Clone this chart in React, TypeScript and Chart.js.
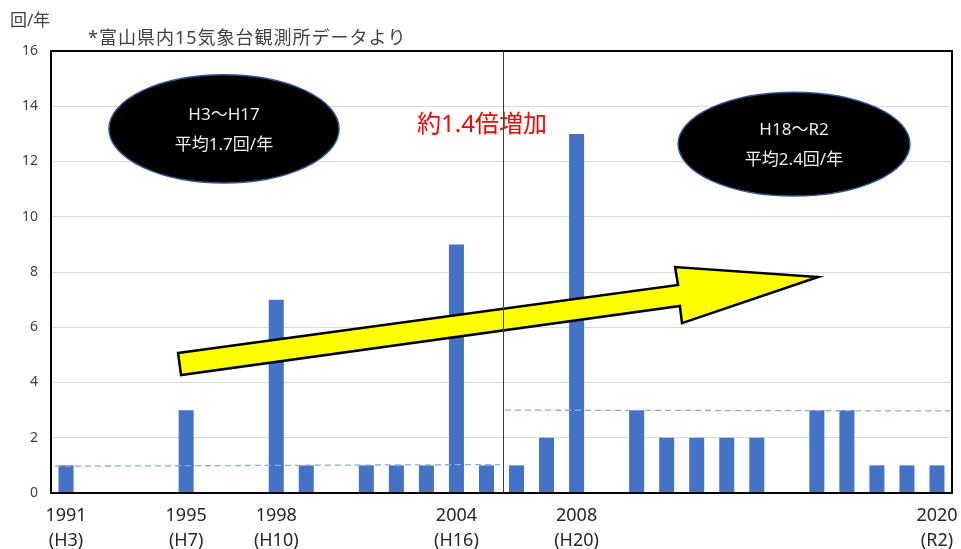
import React, { useEffect, useRef } from 'react';
import { Chart, registerables } from 'chart.js';

Chart.register(...registerables);

// ---- data ----
const years = [
  1991, 1992, 1993, 1994, 1995, 1996, 1997, 1998, 1999, 2000,
  2001, 2002, 2003, 2004, 2005, 2006, 2007, 2008, 2009, 2010,
  2011, 2012, 2013, 2014, 2015, 2016, 2017, 2018, 2019, 2020,
];
const counts = [
  1, 0, 0, 0, 3, 0, 0, 7, 1, 0,
  1, 1, 1, 9, 1, 1, 2, 13, 0, 3,
  2, 2, 2, 2, 0, 3, 3, 1, 1, 1,
];
const labeledYears = [1991, 1995, 1998, 2004, 2008, 2020];
const eraLabels = ['(H3)', '(H7)', '(H10)', '(H16)', '(H20)', '(R2)'];
const yTicks = { min: 0, max: 16, step: 2 };

// period level lines (dashed): [start index, end index, start value, end value]
const earlyLevel = [-0.37, 14.45, 0.97, 1.03];
const lateLevel = [14.62, 29.43, 3.0, 2.97];
const periodDivider = 14.55;

// annotations (in category-index / value coordinates)
const ellipseLeft = { cx: 5.26, cy: 13.18, rx: 3.83, ry: 1.96, lines: ['H3～H17', '平均1.7回/年'] };
const ellipseRight = { cx: 24.24, cy: 12.63, rx: 3.86, ry: 1.88, lines: ['H18～R2', '平均2.4回/年'] };
const increaseText = { x: 13.85, y: 13.3, text: '約1.4倍増加' };
const arrowPoly = [
  [3.73, 5.07], [20.38, 7.53], [20.28, 8.18], [25.04, 7.82],
  [20.51, 6.15], [20.44, 6.77], [3.83, 4.27],
];
const unitLabel = '回/年';
const sourceNote = '*富山県内15気象台観測所データより';

const FONT = "'Noto Sans', 'Noto Sans CJK JP', sans-serif";

const annotationPlugin = {
  id: 'annotations',
  afterDatasetsDraw(chart: any) {
    const ctx = chart.ctx as CanvasRenderingContext2D;
    const xs = chart.scales.x;
    const ys = chart.scales.y;
    const px = (i: number) => xs.getPixelForValue(i);
    const py = (v: number) => ys.getPixelForValue(v);
    const area = chart.chartArea;

    // dashed level lines
    ctx.save();
    ctx.strokeStyle = '#8eaadb';
    ctx.lineWidth = 1.3;
    ctx.setLineDash([6, 4]);
    for (const l of [earlyLevel, lateLevel]) {
      ctx.beginPath();
      ctx.moveTo(px(l[0]), py(l[2]));
      ctx.lineTo(px(l[1]), py(l[3]));
      ctx.stroke();
    }
    ctx.restore();

    // plot border
    ctx.save();
    ctx.strokeStyle = '#000';
    ctx.lineWidth = 2;
    ctx.strokeRect(Math.round(area.left), Math.round(area.top), Math.round(area.right - area.left), Math.round(area.bottom - area.top));
    ctx.restore();

    // ellipses
    for (const e of [ellipseLeft, ellipseRight]) {
      const cx = px(e.cx);
      const cy = py(e.cy);
      const rx = Math.abs(px(e.cx + e.rx) - cx);
      const ry = Math.abs(py(e.cy + e.ry) - cy);
      ctx.save();
      ctx.beginPath();
      ctx.ellipse(cx, cy, rx, ry, 0, 0, Math.PI * 2);
      ctx.fillStyle = '#000';
      ctx.fill();
      ctx.strokeStyle = '#2f5597';
      ctx.lineWidth = 1.5;
      ctx.stroke();
      ctx.fillStyle = '#eeeeee';
      ctx.font = `17px ${FONT}`;
      ctx.textAlign = 'center';
      ctx.textBaseline = 'middle';
      ctx.fillText(e.lines[0], cx, cy - 14);
      ctx.fillText(e.lines[1], cx, cy + 16);
      ctx.restore();
    }

    // arrow
    ctx.save();
    ctx.beginPath();
    arrowPoly.forEach((p, k) => {
      const X = px(p[0]);
      const Y = py(p[1]);
      if (k === 0) ctx.moveTo(X, Y);
      else ctx.lineTo(X, Y);
    });
    ctx.closePath();
    ctx.fillStyle = '#ffff00';
    ctx.fill();
    ctx.strokeStyle = '#000';
    ctx.lineWidth = 2.5;
    ctx.lineJoin = 'miter';
    ctx.stroke();
    ctx.restore();

    // red text
    ctx.save();
    ctx.fillStyle = '#ff0000';
    ctx.font = `24px ${FONT}`;
    ctx.textAlign = 'center';
    ctx.textBaseline = 'middle';
    ctx.fillText(increaseText.text, px(increaseText.x), py(increaseText.y));
    ctx.restore();

    // divider
    ctx.save();
    ctx.strokeStyle = '#404040';
    ctx.lineWidth = 1;
    const dx = Math.round(px(periodDivider)) + 0.5;
    ctx.beginPath();
    ctx.moveTo(dx, area.top);
    ctx.lineTo(dx, area.bottom);
    ctx.stroke();
    ctx.restore();

    // texts at top
    ctx.save();
    ctx.fillStyle = '#404040';
    ctx.textAlign = 'left';
    ctx.textBaseline = 'middle';
    ctx.font = `17px ${FONT}`;
    ctx.fillText(unitLabel, 10, 21);
    ctx.font = `18px ${FONT}`;
    (ctx as any).letterSpacing = '1px';
    ctx.fillText(sourceNote, 88, 39);
    ctx.restore();
  },
};

export default function App() {
  const ref = useRef<HTMLCanvasElement | null>(null);

  useEffect(() => {
    if (!ref.current) return;
    const chart = new Chart(ref.current, {
      type: 'bar',
      data: {
        labels: years.map(String),
        datasets: [
          {
            data: counts,
            backgroundColor: '#4472c4',
            barPercentage: 0.5,
            categoryPercentage: 1,
          },
        ],
      },
      options: {
        animation: false,
        responsive: false,
        layout: { padding: { top: 51, right: 9, left: 0, bottom: 0 } },
        plugins: { legend: { display: false }, tooltip: { enabled: false } },
        scales: {
          x: {
            offset: true,
            grid: { display: false, drawTicks: false },
            border: { display: false },
            ticks: {
              autoSkip: false,
              maxRotation: 0,
              minRotation: 0,
              padding: 10,
              color: '#262626',
              font: { family: FONT, size: 18, lineHeight: 1.4 },
              callback: (_v: any, i: number) => {
                const k = labeledYears.indexOf(years[i]);
                return k >= 0 ? [String(years[i]), eraLabels[k]] : '';
              },
            },
            afterFit: (s: any) => {
              s.height = 56;
              s.paddingLeft = 0;
              s.paddingRight = 0;
            },
          },
          y: {
            min: yTicks.min,
            max: yTicks.max,
            ticks: {
              stepSize: yTicks.step,
              padding: 13,
              color: '#404040',
              font: { family: FONT, size: 14 },
            },
            grid: { color: '#d9d9d9', drawTicks: false, lineWidth: 1 },
            border: { display: false },
            afterFit: (s: any) => {
              s.width = 51;
              s.paddingTop = 0;
              s.paddingBottom = 0;
            },
          },
        },
      },
      plugins: [annotationPlugin],
    });
    return () => chart.destroy();
  }, []);

  return (
    <div style={{ position: 'fixed', left: 0, top: 0, width: 961, height: 549, background: '#fff' }}>
      <canvas ref={ref} width={961} height={549} style={{ width: 961, height: 549 }} />
    </div>
  );
}
